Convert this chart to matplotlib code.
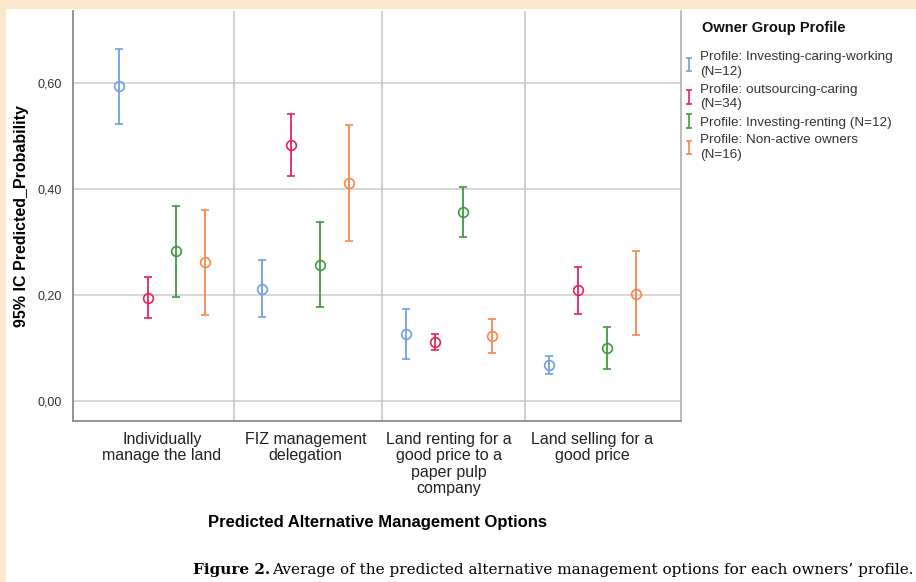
import matplotlib

matplotlib.use("Agg")
import matplotlib.pyplot as plt
from matplotlib.patches import Rectangle
import numpy as np

plt.rcParams["font.family"] = ["Liberation Sans", "DejaVu Sans"]

# Categories on the x axis
CATEGORIES = [
    "Individually\nmanage the land",
    "FIZ management\ndelegation",
    "Land renting for a\ngood price to a\npaper pulp\ncompany",
    "Land selling for a\ngood price",
]

PROFILE_LABELS = [
    "Profile: Investing-caring-working\n(N=12)",
    "Profile: outsourcing-caring\n(N=34)",
    "Profile: Investing-renting (N=12)",
    "Profile: Non-active owners\n(N=16)",
]

# Mean predicted probability and 95% CI bounds, one list per profile
caring_working_mean = [0.595, 0.212, 0.127, 0.067]
caring_working_low = [0.524, 0.158, 0.080, 0.050]
caring_working_high = [0.665, 0.266, 0.173, 0.085]

outsourcing_mean = [0.195, 0.483, 0.112, 0.209]
outsourcing_low = [0.156, 0.425, 0.097, 0.164]
outsourcing_high = [0.234, 0.542, 0.127, 0.254]

renting_mean = [0.283, 0.257, 0.357, 0.100]
renting_low = [0.197, 0.177, 0.309, 0.061]
renting_high = [0.369, 0.339, 0.405, 0.139]

non_active_mean = [0.262, 0.412, 0.122, 0.203]
non_active_low = [0.163, 0.302, 0.091, 0.124]
non_active_high = [0.360, 0.521, 0.155, 0.284]

Y_TICKS = [0.0, 0.2, 0.4, 0.6]
Y_TICK_LABELS = ["0,00", "0,20", "0,40", "0,60"]

COLORS = ["#6f9fe0", "#e2245a", "#3f9a3f", "#f7874f"]
OFFSETS = [-0.3, -0.1, 0.1, 0.3]
SEPARATORS = [0.5, 1.53, 2.53]

series = [
    (caring_working_mean, caring_working_low, caring_working_high),
    (outsourcing_mean, outsourcing_low, outsourcing_high),
    (renting_mean, renting_low, renting_high),
    (non_active_mean, non_active_low, non_active_high),
]

W, H = 916, 582
fig = plt.figure(figsize=(W / 100, H / 100), dpi=100)
fig.patch.set_facecolor("white")

# peach page border (top and left strips)
fig.patches.append(
    Rectangle((0, 1 - 9 / H), 1, 9 / H, transform=fig.transFigure,
              facecolor="#fde6cc", edgecolor="none", zorder=0)
)
fig.patches.append(
    Rectangle((0, 0), 6 / W, 1, transform=fig.transFigure,
              facecolor="#fde6cc", edgecolor="none", zorder=0)
)

ax = fig.add_axes([73 / W, 1 - 421 / H, (681 - 73) / W, (421 - 11) / H])

x = np.arange(len(CATEGORIES))
handles = []
for (mean, low, high), off, color, label in zip(
    series, OFFSETS, COLORS, PROFILE_LABELS
):
    mean = np.array(mean)
    yerr = [mean - np.array(low), np.array(high) - mean]
    ax.errorbar(
        x + off, mean, yerr=yerr, fmt="o", mfc="none", mec=color,
        ms=7, mew=1.2, ecolor=color, elinewidth=1.3, capsize=3,
        capthick=1.3, zorder=3,
    )
    # legend-only handle: a bare "I" shaped error bar
    h = ax.errorbar([np.nan], [np.nan], yerr=[0.1], fmt="none",
                    ecolor=color, elinewidth=1.2, capsize=2.5,
                    capthick=1.2, label=label)
    handles.append(h)

for yv in Y_TICKS:
    ax.axhline(yv, color="#cccccc", lw=1.1, zorder=1)
for xv in SEPARATORS:
    ax.axvline(xv, color="#c4c4c4", lw=1.1, zorder=1)

ax.set_xlim(-0.62, 3.617)
ax.set_ylim(-0.038, 0.737)

ax.set_yticks(Y_TICKS)
ax.set_yticklabels(Y_TICK_LABELS, fontsize=9, color="#333333")
ax.set_xticks(x)
ax.set_xticklabels(CATEGORIES, fontsize=11.5, color="#222222",
                   linespacing=1.1)
ax.tick_params(axis="both", length=0)
ax.tick_params(axis="y", pad=8)
ax.tick_params(axis="x", pad=8)

for side in ["left", "bottom"]:
    ax.spines[side].set_color("#8a8a8a")
    ax.spines[side].set_linewidth(1.3)
ax.spines["right"].set_color("#aaaaaa")
ax.spines["right"].set_linewidth(1.1)
ax.spines["top"].set_visible(False)

ax.set_ylabel("95% IC Predicted_Probability", fontsize=11.5,
              fontweight="bold", labelpad=6)
ax.set_xlabel("Predicted Alternative Management Options", fontsize=12,
              fontweight="bold", labelpad=14)

# legend title drawn on its own so the gap to the entries matches
fig.text(774 / W, 1 - 28 / H, "Owner Group Profile", fontsize=10.5,
         fontweight="bold", ha="center", va="center", color="#111111")
leg = fig.legend(
    handles=handles, labels=PROFILE_LABELS, loc="upper left",
    bbox_to_anchor=(680 / W, 1 - 46 / H), frameon=False,
    fontsize=9.7, handlelength=0.6, handletextpad=0.5, labelspacing=0.42,
    borderaxespad=0,
)
for t in leg.get_texts():
    t.set_linespacing(1.3)
    t.set_color("#333333")

fig.text(193 / W, 1 - 570 / H, "Figure 2.", family="DejaVu Serif",
         fontweight="bold", fontsize=11, va="center", ha="left")
fig.text(272 / W, 1 - 570 / H,
         "Average of the predicted alternative management options for "
         "each owners\u2019 profile.",
         family="DejaVu Serif", fontsize=11, va="center", ha="left")

fig.savefig("out.png", dpi=100)
